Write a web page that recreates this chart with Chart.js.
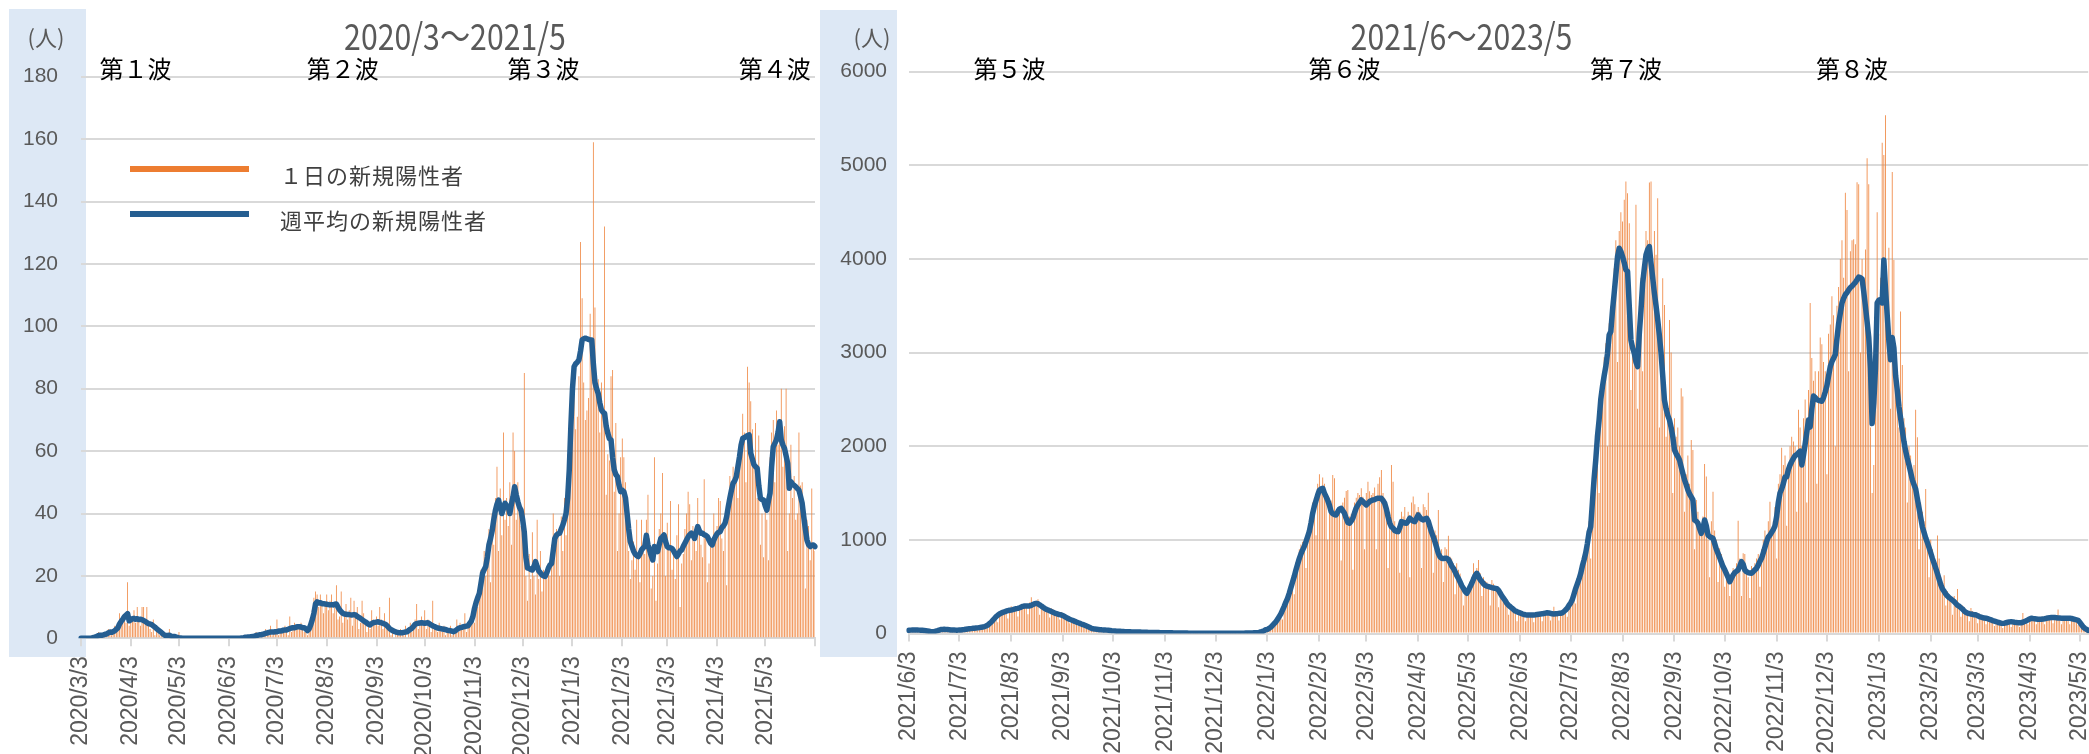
<!DOCTYPE html>
<html lang="ja">
<head>
<meta charset="utf-8">
<title>新規陽性者数の推移</title>
<script src="https://cdn.jsdelivr.net/npm/chart.js@4/dist/chart.umd.min.js"></script>
<style>
  html, body { margin: 0; padding: 0; background: #fff; overflow: hidden; }
  body { width: 2089px; height: 754px; position: relative; }
  canvas { position: absolute; top: 0; }
  #chartLeft { left: 0; }
  #chartRight { left: 820px; }
</style>
</head>
<body>
<canvas id="chartLeft" width="860" height="754"></canvas>
<canvas id="chartRight" width="1300" height="754"></canvas>
<script>
// ---- 2020/3 ~ 2021/5 ----
const leftStart = '2020/3/3';
const leftEnd = '2021/6/3';
const leftTickLabels = ['2020/3/3', '2020/4/3', '2020/5/3', '2020/6/3', '2020/7/3', '2020/8/3', '2020/9/3',
  '2020/10/3', '2020/11/3', '2020/12/3', '2021/1/3', '2021/2/3', '2021/3/3', '2021/4/3', '2021/5/3'];
const leftWaves = ['第１波', '第２波', '第３波', '第４波'];
const leftWaveDates = ['2020/4/6', '2020/8/13', '2020/12/16', '2021/5/9'];

// 1日の新規陽性者
const leftDaily = [
  0,0,0,0,0,0,0,1,1,0,
  1,2,1,0,1,2,1,3,2,1,
  2,4,3,4,8,5,6,7,5,18,
  4,6,7,9,5,10,6,4,10,10,
  5,10,4,3,2,6,1,3,2,1,
  2,0,1,1,0,3,0,0,1,0,
  0,2,0,0,0,0,0,0,0,0,
  0,0,0,0,0,0,0,0,0,0,
  0,0,0,0,0,0,0,0,0,0,
  0,0,0,0,0,0,0,0,0,0,
  0,0,1,0,1,0,0,1,1,2,
  1,2,0,1,2,3,1,2,4,1,
  2,3,6,1,2,3,2,4,3,1,
  7,2,3,5,4,3,4,5,3,2,
  2,1,4,6,9,13,15,14,10,14,
  12,8,11,14,9,12,14,8,11,17,
  6,7,15,5,8,11,6,9,13,4,
  12,7,10,3,5,12,8,6,2,4,
  3,9,6,5,7,4,10,6,3,8,
  4,5,13,1,2,0,3,2,1,3,
  2,1,4,0,3,5,2,4,6,11,
  3,5,7,4,9,3,6,5,2,12,
  3,4,2,5,3,2,4,1,3,2,
  4,1,2,3,6,2,5,3,4,8,
  2,5,4,7,9,5,12,10,18,22,
  17,28,20,24,35,18,40,30,45,55,
  28,48,33,66,38,45,36,50,30,66,
  60,38,50,45,36,32,85,20,12,27,
  19,34,20,14,38,19,28,15,22,20,
  19,24,20,30,40,28,35,33,20,39,
  28,45,33,59,54,68,70,80,67,71,
  84,127,109,82,70,73,77,104,95,159,
  106,80,83,66,82,72,132,46,59,57,
  84,86,47,69,28,40,58,64,58,50,
  39,28,19,25,31,22,38,26,18,38,
  30,27,38,46,32,16,20,58,12,24,
  35,40,53,33,20,37,30,44,22,28,
  19,33,43,10,24,27,35,40,47,43,
  25,36,31,28,45,35,30,26,51,33,
  18,24,30,29,40,33,36,45,44,32,
  28,36,17,40,52,48,55,52,56,45,
  60,64,72,66,50,87,82,76,67,55,
  69,45,65,30,40,26,44,38,25,58,
  66,70,50,73,62,68,80,55,68,80,
  28,40,62,45,52,38,40,66,49,50,
  40,16,38,36,25,48,30,28
];

// 週平均の新規陽性者
const leftWeekly = [
  0,0,0,0,0,0,0,0.1,0.3,0.4,
  0.6,0.9,1.0,1.0,1.1,1.3,1.4,1.7,2.0,1.9,
  2.1,2.4,2.9,3.4,4.6,5.4,6.1,6.9,7.4,7.9,
  5.6,5.9,6.3,6.4,6.1,6.3,6.0,6.1,6.0,5.7,
  5.4,5.0,4.7,4.6,4.4,4.0,3.6,3.1,2.7,2.3,
  1.9,1.4,1.0,0.9,0.9,1.0,0.7,0.6,0.6,0.4,
  0.3,0.1,0.1,0,0,0,0,0,0,0,
  0,0,0,0,0,0,0,0,0,0,
  0,0,0,0,0,0,0,0,0,0,
  0,0,0,0,0,0,0,0,0,0,
  0.1,0.1,0.3,0.3,0.4,0.4,0.5,0.6,0.7,0.9,
  1.0,1.1,1.1,1.3,1.4,1.6,1.7,1.9,2.0,2.0,
  2.0,2.1,2.1,2.3,2.3,2.4,2.6,2.7,2.7,2.9,
  3.1,3.3,3.4,3.4,3.6,3.7,3.7,3.6,3.4,3.4,
  3.0,2.5,3.0,4.3,6.0,8.0,11.0,11.7,11.3,11.4,
  11.1,11.1,11.0,10.9,10.8,10.7,10.8,10.7,10.9,11.0,
  10.0,9.1,8.5,8.0,7.8,7.7,7.6,7.6,7.5,7.5,
  7.6,7.5,7.0,6.7,6.4,6.0,5.6,5.3,4.9,4.5,
  4.3,4.7,5.0,5.1,5.2,5.3,5.1,5.0,4.8,4.6,
  4.3,3.8,3.2,2.8,2.5,2.2,2.0,1.9,1.8,1.8,
  1.8,1.9,2.0,2.1,2.5,2.9,3.2,3.8,4.5,4.7,
  4.8,4.9,5.0,4.9,4.8,4.9,5.0,4.6,4.3,4.0,
  3.8,3.5,3.3,3.2,3.1,3.0,2.9,2.8,2.6,2.5,
  2.4,2.3,2.1,2.4,2.8,3.2,3.4,3.5,3.7,3.8,
  3.9,4.0,4.8,5.5,7.0,9.6,11.5,13.0,14.4,17.5,
  20.8,22.0,23.0,26.0,30.0,32.0,34.5,38.0,41.0,43.0,
  44.3,42.0,40.0,41.5,43.3,42.5,42.2,40.0,43.0,45.4,
  48.6,46.0,43.8,42.0,41.0,38.0,34.0,26.0,22.5,22.4,
  22.0,21.9,23.0,24.6,23.0,21.6,21.0,20.3,20.0,19.8,
  21.0,22.5,23.5,24.0,28.0,32.0,33.0,33.5,33.7,35.0,
  36.3,38.0,40.0,45.0,54.0,68.0,80.0,87.0,88.0,88.5,
  89.2,92.0,95.6,96.0,96.2,96.0,95.8,95.6,95.6,88.0,
  82.0,80.0,78.5,75.5,73.2,72.5,72.1,68.0,65.7,64.0,
  63.6,58.0,54.0,52.5,51.8,49.0,47.0,47.5,47.0,45.0,
  40.0,35.0,31.0,29.5,28.0,27.0,26.5,26.2,27.0,28.3,
  29.0,29.4,33.0,30.0,28.3,26.5,25.1,29.4,28.5,27.8,
  30.0,32.0,32.5,33.1,31.0,29.4,29.0,29.0,28.8,28.0,
  27.0,26.2,27.0,28.0,28.3,29.5,30.5,31.5,32.5,33.2,
  33.7,33.0,32.0,34.0,35.8,34.5,33.7,33.7,33.2,33.0,
  32.6,31.5,30.5,29.9,31.5,32.6,33.5,34.0,34.2,35.5,
  36.0,36.9,39.0,42.2,45.0,47.5,49.7,50.5,51.8,55.0,
  58.2,62.0,64.1,64.3,64.6,65.0,65.2,59.3,57.5,55.6,
  55.0,54.5,49.0,44.9,44.5,44.3,42.5,41.1,44.0,46.5,
  55.0,61.4,62.5,63.6,66.0,69.4,63.6,62.0,60.9,58.5,
  56.1,48.1,50.2,49.5,49.0,48.6,48.0,47.5,45.5,43.3,
  39.0,35.0,31.5,30.0,29.4,29.8,29.9,29.4
];

// ---- 2021/6 ~ 2023/5 ----
const rightStart = '2021/6/3';
const rightEnd = '2023/5/8';
const rightTickLabels = ['2021/6/3', '2021/7/3', '2021/8/3', '2021/9/3', '2021/10/3', '2021/11/3', '2021/12/3',
  '2022/1/3', '2022/2/3', '2022/3/3', '2022/4/3', '2022/5/3', '2022/6/3', '2022/7/3', '2022/8/3', '2022/9/3',
  '2022/10/3', '2022/11/3', '2022/12/3', '2023/1/3', '2023/2/3', '2023/3/3', '2023/4/3', '2023/5/3'];
const rightWaves = ['第５波', '第６波', '第７波', '第８波'];
const rightWaveDates = ['2021/8/2', '2022/2/18', '2022/8/5', '2022/12/18'];

const rightDaily = [
  40,37,38,33,20,45,46,38,36,31,
  28,14,29,23,20,21,26,17,41,50,
  48,47,43,38,24,45,46,42,39,34,
  21,44,47,46,48,52,30,58,60,62,
  60,36,72,75,74,80,85,55,118,140,
  155,175,188,120,225,240,236,245,260,160,
  270,290,280,268,265,182,300,310,305,292,
  310,205,330,386,330,320,340,365,200,320,
  300,290,262,250,170,270,258,232,225,205,
  150,230,215,186,175,160,110,150,145,130,
  118,80,120,108,90,80,55,75,66,55,
  50,38,48,45,40,30,42,38,35,30,
  36,20,30,29,25,25,17,24,22,20,
  22,19,13,19,17,16,16,11,16,15,
  15,14,10,13,12,11,11,8,11,10,
  10,9,8,6,9,7,7,7,5,6,
  7,6,4,6,5,5,5,3,4,5,
  4,4,3,5,3,3,3,2,3,4,
  3,3,2,4,3,3,3,2,3,4,
  3,3,2,4,3,3,5,4,3,5,
  4,5,4,6,7,6,8,9,10,12,
  14,20,26,35,50,60,45,95,115,140,
  155,200,230,150,330,380,420,470,540,600,
  420,760,820,900,950,980,1000,700,1100,1180,
  1300,1400,1450,1050,1600,1700,1550,1665,1600,1480,
  1000,1450,1420,1694,1658,1300,1250,1350,780,1400,
  1450,1522,1533,1250,1280,680,1400,1450,1500,1480,
  1550,1460,900,1500,1622,1520,1480,1500,1560,900,
  1600,1668,1747,1500,1450,1300,700,1300,1800,1622,
  1200,1100,1150,650,1300,1250,1350,1200,1300,600,
  1400,1462,1380,1300,1350,1300,700,1380,1350,1320,
  1504,1200,1100,650,1100,1050,1319,850,900,550,
  920,900,1045,820,800,750,420,750,680,640,
  520,300,500,460,500,560,600,750,650,700,
  785,643,400,600,560,550,520,300,571,530,
  500,480,280,470,420,380,350,330,200,300,
  280,270,240,130,250,230,220,200,130,210,
  220,215,200,120,210,215,220,230,130,225,
  240,245,230,140,230,287,230,220,140,230,
  250,270,280,180,340,360,400,460,320,580,
  650,720,800,850,950,1050,1200,800,1500,1800,
  2000,2300,1500,2600,2725,2950,3100,2000,3314,3500,
  3700,3900,4200,2900,4300,4500,4400,4632,4827,4702,
  4382,2600,3100,3000,4578,2400,3500,3800,2800,4000,
  4300,4200,4816,4827,3600,4300,4044,4649,2200,3000,
  3794,3509,2100,2400,3349,3000,1500,2300,2100,2200,
  2000,2619,2530,1300,1700,1900,1600,2067,1960,900,
  1426,1300,1200,1150,1250,1811,1676,1000,600,1200,
  1515,1100,1000,550,910,850,780,500,700,650,
  400,600,700,650,750,1205,800,400,856,850,
  700,600,380,720,700,750,800,850,500,900,
  1000,1100,1050,1200,1408,1100,1200,1350,800,1600,
  1700,1984,1800,1900,1150,1800,2000,2100,2050,2000,
  1300,2389,2200,2000,2300,2500,1400,2600,3530,2941,
  2700,2800,1600,2800,3162,3089,2900,2800,1700,3200,
  3300,3603,3400,2000,3500,3700,4000,4200,3800,4707,
  4523,2800,4082,4200,4211,4156,4818,4799,3000,4000,
  3500,4100,5075,4799,2200,1500,1800,2500,4500,3200,
  3800,5240,5111,5534,3200,4119,2400,4928,3990,3000,
  2800,2200,3438,2868,2300,2200,1400,2000,1900,1700,
  1800,2389,2095,900,1400,1300,1200,1543,1000,600,
  1000,900,800,650,1046,800,600,500,623,300,
  450,400,380,200,400,350,476,320,180,300,
  280,250,240,130,273,240,220,200,110,210,
  200,190,180,100,180,175,160,150,80,145,
  135,130,120,60,125,130,140,135,70,140,
  135,130,130,70,135,218,150,160,100,170,
  180,180,175,100,175,170,180,180,100,185,
  190,195,190,110,190,185,255,180,100,180,
  180,175,180,100,180,170,160,150,90,140,
  110,80,60,50,40
];

const rightWeekly = [
  35,36,37,38,38,37,36,35,34,33,
  30,27,24,20,18,20,25,30,36,42,
  44,45,44,42,40,38,37,37,36,36,
  37,38,40,42,45,48,50,52,55,56,
  58,60,63,66,70,74,80,90,105,120,
  140,160,180,195,208,218,225,232,238,244,
  248,251,255,260,265,269,275,282,290,294,
  295,294,294,300,310,318,322,318,305,294,
  280,268,258,251,243,235,226,218,212,206,
  202,198,190,180,170,160,150,144,137,130,
  122,115,108,101,95,88,80,72,64,55,
  50,47,45,43,41,39,38,37,36,35,
  33,30,28,27,25,24,23,22,21,20,
  20,19,18,17,17,16,16,15,15,14,
  14,13,13,12,12,11,11,10,10,10,
  9,9,8,8,8,7,7,7,6,6,
  6,6,5,5,5,5,5,4,4,4,
  4,4,4,4,3,3,3,3,3,3,
  3,3,3,3,3,3,3,3,3,3,
  3,3,3,3,3,3,4,4,4,4,
  4,5,5,5,6,6,7,8,9,10,
  18,22,30,40,45,55,68,85,105,125,
  150,180,210,250,290,335,375,430,490,550,
  610,678,740,800,850,892,930,980,1034,1090,
  1180,1284,1360,1420,1480,1530,1545,1551,1500,1462,
  1420,1370,1302,1280,1270,1266,1300,1330,1337,1310,
  1284,1230,1185,1177,1200,1231,1290,1340,1373,1400,
  1426,1410,1390,1373,1390,1410,1420,1426,1430,1440,
  1444,1444,1444,1420,1391,1330,1248,1180,1140,1124,
  1100,1090,1088,1130,1195,1190,1180,1177,1200,1231,
  1215,1200,1195,1230,1266,1240,1220,1213,1225,1231,
  1200,1140,1080,1034,980,920,856,820,803,800,
  803,803,790,760,720,696,660,620,589,550,
  510,482,450,429,460,500,536,580,620,643,
  610,575,554,530,515,505,500,495,490,486,
  482,478,460,430,400,375,350,320,300,286,
  270,255,240,233,225,218,210,205,200,198,
  198,198,198,198,200,203,206,208,210,214,
  218,222,220,215,210,208,210,212,215,215,
  220,235,251,270,300,325,360,420,480,530,
  580,640,720,785,860,960,1080,1141,1400,1650,
  1854,2100,2281,2500,2637,2750,2851,2990,3189,3225,
  3450,3634,3830,4026,4115,4080,4026,3960,3884,3866,
  3500,3135,3050,2993,2900,2851,3200,3450,3740,3900,
  4044,4100,4133,3955,3800,3634,3500,3349,3180,2993,
  2750,2495,2400,2330,2281,2200,2100,1961,1920,1890,
  1854,1780,1710,1640,1590,1533,1490,1460,1427,1213,
  1200,1177,1120,1070,1120,1213,1150,1052,1035,1025,
  1017,960,900,856,810,760,714,680,640,600,
  553,590,625,650,665,678,720,767,740,678,
  660,650,645,643,660,680,696,730,770,803,
  860,920,981,1030,1050,1080,1110,1150,1250,1400,
  1500,1543,1600,1672,1672,1750,1800,1837,1870,1900,
  1911,1930,1947,1800,1900,2021,2150,2279,2205,2400,
  2536,2520,2499,2490,2485,2481,2520,2580,2646,2750,
  2850,2904,2940,2978,3150,3309,3420,3530,3580,3620,
  3640,3670,3695,3710,3730,3750,3780,3806,3800,3787,
  3650,3492,3330,3161,2831,2242,2463,2831,3530,3560,
  3566,3530,3990,3677,3400,3125,2923,3161,3051,2757,
  2600,2426,2300,2168,2050,1950,1870,1800,1720,1640,
  1590,1543,1440,1340,1240,1138,1080,1020,970,917,
  860,800,750,696,640,580,520,475,450,420,
  400,383,370,355,340,320,300,291,275,260,
  240,225,218,212,208,204,200,199,190,180,
  175,170,165,163,158,152,145,138,132,126,
  120,115,110,108,110,115,120,124,126,124,
  120,118,116,115,115,120,128,135,145,155,
  163,160,158,155,152,152,152,155,158,162,
  165,168,170,170,170,168,165,165,164,163,
  163,162,162,163,160,155,150,145,140,120,
  95,71,55,45,34
];

const colorDaily = '#EF8640';
const colorWeekly = '#255E91';
const gridColor = '#D9D9D9';
const textGrey = '#595959';
const panelColor = '#DDE8F5';
const tickFont = 'Liberation Sans';

function makeLabels(start, end) {
  const [y, m, d] = start.split('/').map(Number);
  const labels = [];
  for (let i = 0; ; i++) {
    const dt = new Date(Date.UTC(y, m - 1, d + i));
    const s = dt.getUTCFullYear() + '/' + (dt.getUTCMonth() + 1) + '/' + dt.getUTCDate();
    labels.push(s);
    if (s === end) break;
  }
  return labels;
}

// panel, titles, wave labels and legend
const decor = {
  id: 'decor',
  beforeDraw(chart, args, o) {
    const ctx = chart.ctx;
    ctx.save();
    ctx.fillStyle = '#fff';
    ctx.fillRect(0, 0, chart.width, chart.height);
    ctx.fillStyle = panelColor;
    ctx.fillRect(o.panel[0], o.panel[1], o.panel[2], o.panel[3]);
    ctx.restore();
  },
  afterDraw(chart, args, o) {
    const ctx = chart.ctx;
    const xs = chart.scales.x;
    ctx.save();
    ctx.textBaseline = 'middle';
    ctx.textAlign = 'center';
    ctx.fillStyle = textGrey;

    // condensed title
    ctx.save();
    ctx.translate(o.titleX, 36);
    ctx.scale(0.84, 1);
    ctx.font = '36px "Noto Sans CJK JP"';
    ctx.fillText(o.title, 0, 0);
    ctx.restore();

    ctx.font = '22px "Noto Sans CJK JP"';
    ctx.fillText('(人)', o.unitX, 38);

    ctx.fillStyle = '#000';
    ctx.font = '24px "Noto Sans CJK JP"';
    o.waves.forEach((w, i) => {
      const idx = chart.data.labels.indexOf(o.waveDates[i]);
      ctx.fillText(w, xs.getPixelForValue(idx), 69);
    });

    if (o.legend) {
      const daily = chart.data.datasets[1];
      const weekly = chart.data.datasets[0];
      const items = [[daily.label, '#ED7D31'], [weekly.label, weekly.borderColor]];
      ctx.textAlign = 'left';
      ctx.font = '22px "Noto Sans CJK JP"';
      ctx.letterSpacing = '1px';
      items.forEach(([label, color], i) => {
        const y = o.legend.y + i * o.legend.gap;
        ctx.strokeStyle = color;
        ctx.lineWidth = 6;
        ctx.beginPath();
        ctx.moveTo(o.legend.x, y);
        ctx.lineTo(o.legend.x + o.legend.len, y);
        ctx.stroke();
        ctx.fillStyle = '#404040';
        ctx.fillText(label, o.legend.x + 150, y + 7);
      });
    }
    ctx.restore();
  }
};

function buildChart(id, cfg) {
  const labels = makeLabels(cfg.start, cfg.end);
  return new Chart(document.getElementById(id), {
    type: 'bar',
    data: {
      labels: labels,
      datasets: [
        { type: 'line', label: '週平均の新規陽性者', data: cfg.weekly, borderColor: colorWeekly,
          borderWidth: 5.5, pointRadius: 0, tension: 0, borderJoinStyle: 'round', borderCapStyle: 'round', order: 1 },
        { type: 'bar', label: '１日の新規陽性者', data: cfg.daily, backgroundColor: colorDaily,
          barPercentage: 0.5, categoryPercentage: 1, order: 2 }
      ]
    },
    options: {
      responsive: false,
      animation: false,
      devicePixelRatio: 1,
      layout: { padding: { top: cfg.top, right: cfg.right, left: 0, bottom: 0 } },
      plugins: {
        legend: { display: false },
        tooltip: { enabled: false },
        decor: cfg.decor
      },
      scales: {
        x: {
          offset: false,
          grid: { offset: false, drawOnChartArea: false, drawTicks: true, tickLength: 8, color: gridColor, lineWidth: 2 },
          border: { display: true, color: gridColor, width: 2 },
          ticks: {
            autoSkip: false, minRotation: 90, maxRotation: 90, padding: 10,
            color: textGrey, font: { size: 23, family: tickFont },
            callback(value, index) {
              const lab = this.getLabelForValue(value);
              if (cfg.tickLabels.includes(lab)) return lab;
              if (cfg.endTick && index === labels.length - 1) return '';
              return null;
            }
          },
          afterFit(scale) { scale.height = cfg.xHeight; }
        },
        y: {
          min: 0, max: cfg.yMax,
          border: { display: false },
          grid: { color: gridColor, lineWidth: 2, drawTicks: false },
          ticks: {
            stepSize: cfg.yStep, padding: cfg.yPad, color: textGrey,
            font: { size: 21, family: tickFont },
            callback: (v) => String(v)
          },
          afterFit(scale) { scale.width = cfg.yWidth; }
        }
      }
    },
    plugins: [decor]
  });
}

buildChart('chartLeft', {
  start: leftStart, end: leftEnd, tickLabels: leftTickLabels, endTick: true,
  daily: leftDaily, weekly: leftWeekly,
  yMax: 180, yStep: 20, yPad: 23, yWidth: 81,
  top: 76.7, right: 45, xHeight: 115.7,
  decor: {
    panel: [9, 9, 77, 648], title: '2020/3～2021/5', titleX: 455, unitX: 46,
    waves: leftWaves, waveDates: leftWaveDates,
    legend: { x: 130, y: 169, gap: 45, len: 119 }
  }
});

buildChart('chartRight', {
  start: rightStart, end: rightEnd, tickLabels: rightTickLabels, endTick: false,
  daily: rightDaily, weekly: rightWeekly,
  yMax: 6000, yStep: 1000, yPad: 22, yWidth: 89,
  top: 71.7, right: 31.8, xHeight: 120.5,
  decor: {
    panel: [0, 10, 77, 647], title: '2021/6～2023/5', titleX: 641.5, unitX: 52,
    waves: rightWaves, waveDates: rightWaveDates,
    legend: null
  }
});
</script>
</body>
</html>
